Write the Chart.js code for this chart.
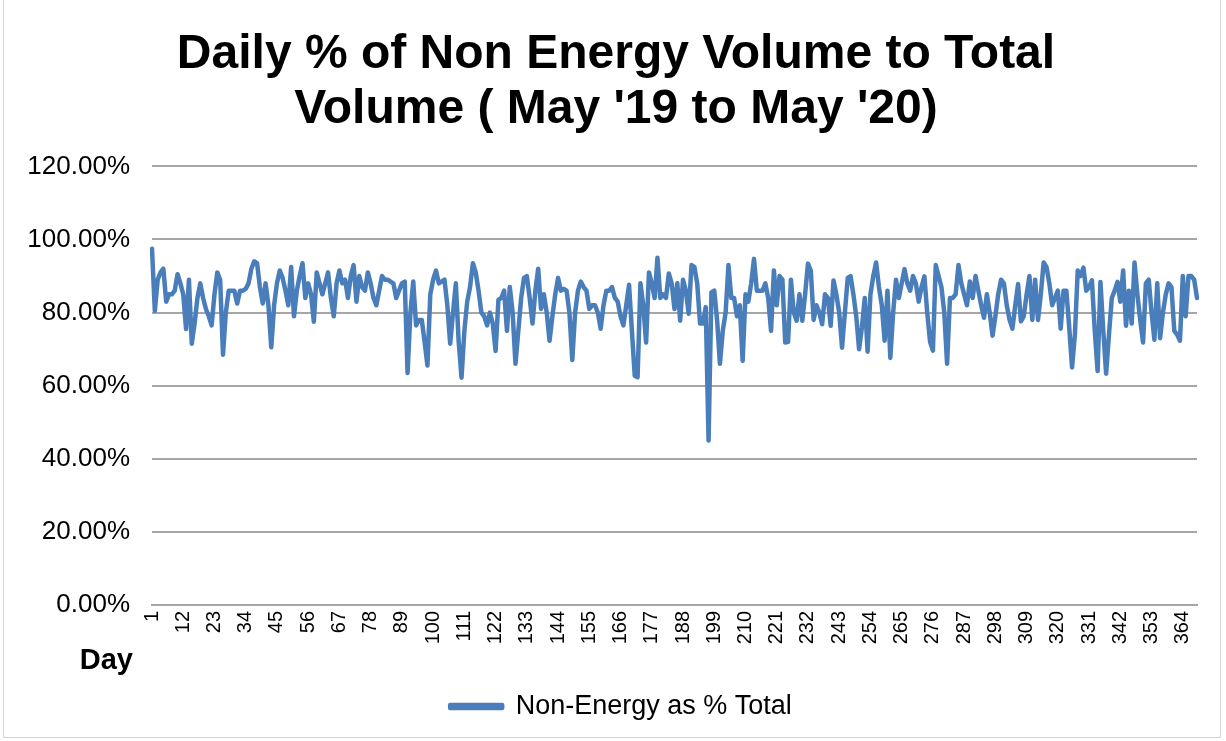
<!DOCTYPE html>
<html>
<head>
<meta charset="utf-8">
<script src="https://cdn.jsdelivr.net/npm/chart.js@4.4.1/dist/chart.umd.min.js"></script>
<style>
  html, body { margin: 0; padding: 0; background: #fff; }
  #wrap { position: relative; width: 1226px; height: 741px; }
  #frame { position: absolute; left: 3px; top: -2px; width: 1218px; height: 740px; border: 1px solid #d4d4d4; box-sizing: border-box; pointer-events: none; }
  canvas { display: block; }
</style>
</head>
<body>
<div id="wrap">
  <canvas id="myChart" width="1226" height="741"></canvas>
  <div id="frame"></div>
</div>
<script>
// Titre et légende
var titleLines = ["Daily % of Non Energy Volume to Total", "Volume ( May '19 to May '20)"];
var seriesName = 'Non-Energy as % Total';
var xTitle = 'Day';

// Jours 1..369
var days = [];
for (var i = 1; i <= 369; i++) { days.push(String(i)); }

// Graduations de l'axe Y (en %)
var yTicks = [0, 20, 40, 60, 80, 100, 120];

// Valeurs (% non-énergie / total)
var nonEnergyPct = [
  97.5, 80.5, 89, 91, 92, 83, 85, 85, 86, 90.5,
  88, 85, 75.5, 89, 71.5, 77, 84, 88, 84, 81,
  79, 76.5, 85, 91, 89, 68.5, 80, 86, 86, 86,
  82.5, 86, 86, 86.5, 88, 92, 94, 93.5, 87, 82.5,
  88, 82, 70.5, 82, 88, 91.5, 89.5, 86, 82, 92.5,
  79, 86, 90, 93.5, 84, 88, 85, 77.5, 91, 88,
  85, 88, 91, 84, 79, 88, 91.5, 88, 89, 84,
  90, 93, 83, 90, 87, 86, 91, 88, 84, 82,
  86, 90, 89, 89, 88.5, 88, 84, 86, 88, 88.5,
  63.5, 80, 88.5, 76.5, 78, 78, 72, 65.5, 85, 89,
  91.5, 88, 88.5, 89, 82, 71.5, 80, 88, 72, 62.2,
  75, 83, 87, 93.5, 91, 86, 80, 79, 76.5, 80,
  77, 69.5, 83.5, 84, 86, 75, 87, 80, 66, 75,
  84, 89.5, 90, 84, 77, 86, 92, 81, 85, 80,
  72.3, 79, 85, 89.5, 86, 86.5, 86, 80, 67, 80,
  86, 88.5, 87, 86, 81, 82, 82, 80, 75.6, 82,
  86, 86, 87, 84, 83, 79, 76.5, 82, 87.6, 75,
  62.7, 62.3, 88, 82, 71.8, 91, 88, 84, 95, 84,
  85, 84, 90.7, 88, 81, 88, 77.8, 89, 86, 79.7,
  93, 92.5, 88, 77, 77, 81.5, 45, 85.5, 86, 78,
  66, 75, 80, 93, 84, 84, 79, 82, 66.8, 85,
  83, 88, 94.7, 86, 86, 86, 88, 84, 75, 91.5,
  82, 90, 89, 71.8, 72, 89, 80, 77.8, 85, 77.8,
  85, 93.4, 91.5, 78, 82, 80, 76.8, 85, 84, 76.4,
  88.8, 85, 80, 70.4, 80, 89.5, 90, 85, 79, 70,
  76, 84, 69.3, 85, 90, 93.7, 87, 82, 72.3, 86,
  67.6, 80, 89, 84, 88, 91.9, 88, 86, 90, 88,
  83, 87, 89.9, 80, 72, 69.6, 93, 90, 87, 80,
  66, 84, 84, 85, 93, 88, 85, 82, 88.5, 84,
  90, 86, 82, 78.6, 85, 80, 73.7, 79, 85, 89,
  88, 82, 78, 75.6, 82, 87.8, 77.6, 79, 85, 90,
  78, 89, 78, 85, 93.7, 92.5, 88, 82, 84, 86,
  75.6, 86, 86, 76, 65, 74, 91.5, 90, 92.3, 86,
  87, 88.8, 75, 64, 88.4, 75, 63.3, 74, 84, 86,
  88.4, 83, 91.5, 76.4, 86, 77, 93.7, 85, 78, 71.8,
  88, 89, 80, 72.6, 88, 73, 80, 85, 88, 87,
  75, 74, 72.3, 90, 79, 90, 90, 89, 84
];

var fontFamily = "'Liberation Sans', Arial, Helvetica, sans-serif";
var lineColor = '#4a7ebb';

// Titre de l'axe X ("Day") placé à gauche, comme dans Excel
const dayLabel = {
  id: 'dayLabel',
  afterDraw(chart) {
    const c = chart.ctx;
    const area = chart.chartArea;
    c.save();
    c.font = 'bold 29px ' + fontFamily;
    c.fillStyle = '#000';
    c.textAlign = 'right';
    c.textBaseline = 'middle';
    c.fillText(xTitle, area.left - 19, area.bottom + 56);
    c.restore();
  }
};

// Décale un peu le titre et la légende vers la droite (centrés comme dans Excel)
const shiftBlocks = {
  id: 'shiftBlocks',
  afterLayout(chart) {
    if (chart.titleBlock) { chart.titleBlock.left += 15; chart.titleBlock.right += 15; }
    if (chart.legend) { chart.legend.left += 20; chart.legend.right += 20; }
  }
};

const ctx = document.getElementById('myChart');
const chart = new Chart(ctx, {
  type: 'line',
  data: {
    labels: days,
    datasets: [{
      label: seriesName,
      data: nonEnergyPct,
      borderColor: lineColor,
      backgroundColor: lineColor,
      borderWidth: 4.5,
      borderJoinStyle: 'round',
      borderCapStyle: 'round',
      pointRadius: 0,
      tension: 0,
      fill: false
    }]
  },
  options: {
    responsive: false,
    animation: false,
    layout: { padding: { left: 5, right: 29, top: 10, bottom: 11 } },
    plugins: {
      title: {
        display: true,
        text: titleLines,
        color: '#000',
        font: { family: fontFamily, size: 48, weight: 'bold', lineHeight: 1.15 },
        padding: { top: 17, bottom: 29 }
      },
      legend: {
        position: 'bottom',
        labels: {
          color: '#000',
          font: { family: fontFamily, size: 27 },
          boxWidth: 52,
          boxHeight: 3,
          padding: 12
        }
      },
      tooltip: { enabled: false }
    },
    scales: {
      x: {
        offset: false,
        grid: { display: false, drawTicks: false },
        border: { display: true, color: '#a6a6a6', width: 2 },
        ticks: {
          autoSkip: false,
          maxRotation: 90,
          minRotation: 90,
          color: '#000',
          padding: 6,
          font: { family: fontFamily, size: 20 },
          callback: function(value, index) {
            return index % 11 === 0 ? days[index] : null;
          }
        },
        afterFit: function(scale) { scale.height = 76; }
      },
      y: {
        min: yTicks[0],
        max: yTicks[yTicks.length - 1],
        grid: { color: '#a6a6a6', lineWidth: 2, drawTicks: false },
        border: { display: false },
        afterBuildTicks: function(scale) {
          scale.ticks = yTicks.map(v => ({ value: v }));
        },
        ticks: {
          color: '#000',
          padding: 22,
          font: { family: fontFamily, size: 26 },
          callback: function(value) { return value.toFixed(2) + '%'; }
        },
        afterFit: function(scale) { scale.width = 147; }
      }
    }
  },
  plugins: [dayLabel, shiftBlocks]
});
</script>
</body>
</html>
